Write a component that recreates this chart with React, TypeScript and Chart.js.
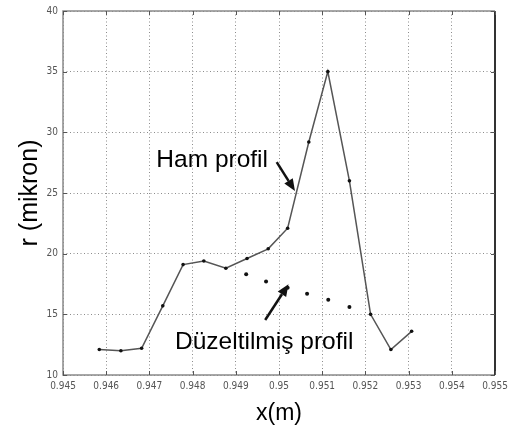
import React, { useEffect, useRef } from "react";
import { Chart, registerables } from "chart.js";

Chart.register(...registerables);

const xTicks = [0.945, 0.946, 0.947, 0.948, 0.949, 0.95, 0.951, 0.952, 0.953, 0.954, 0.955];
const xTickLabels = ["0.945", "0.946", "0.947", "0.948", "0.949", "0.95", "0.951", "0.952", "0.953", "0.954", "0.955"];
const yTicks = [10, 15, 20, 25, 30, 35, 40];
const yTickLabels = ["10", "15", "20", "25", "30", "35", "40"];

const hamX = [0.94584, 0.94634, 0.94682, 0.94731, 0.94778, 0.94826, 0.94877, 0.94926, 0.94975, 0.9502, 0.95069, 0.95113, 0.95163, 0.95212, 0.95259, 0.95307];
const hamY = [12.1, 12.0, 12.2, 15.7, 19.1, 19.4, 18.8, 19.6, 20.4, 22.1, 29.2, 35.0, 26.0, 15.0, 12.1, 13.6];

const duzX = [0.94924, 0.9497, 0.9502, 0.95065, 0.95114, 0.95163];
const duzY = [18.3, 17.7, 17.2, 16.7, 16.2, 15.6];

const hamLabel = "Ham profil";
const duzLabel = "Düzeltilmiş profil";
const xTitle = "x(m)";
const yTitle = "r (mikron)";

// annotation anchors in data coordinates
const hamText = { x: 0.949745, y: 27.13 };
const hamArrow = { x0: 0.949947, y0: 27.54, x1: 0.95037, y1: 25.17 };
const duzText = { x: 0.947593, y: 12.12 };
const duzArrow = { x0: 0.94968, y0: 14.53, x1: 0.95022, y1: 17.48 };

const annotationPlugin = {
  id: "annotations",
  afterDatasetsDraw(chart: any) {
    const ctx = chart.ctx;
    const xs = chart.scales.x;
    const ys = chart.scales.y;
    const px = (v: number) => xs.getPixelForValue(v);
    const py = (v: number) => ys.getPixelForValue(v);
    ctx.save();
    ctx.fillStyle = "#000";
    ctx.font = '24.5px "Liberation Sans", Arial, sans-serif';
    ctx.textBaseline = "alphabetic";
    ctx.textAlign = "right";
    ctx.fillText(hamLabel, px(hamText.x), py(hamText.y));
    ctx.textAlign = "left";
    ctx.fillText(duzLabel, px(duzText.x), py(duzText.y));

    const arrow = (a: any) => {
      const x0 = px(a.x0), y0 = py(a.y0), x1 = px(a.x1), y1 = py(a.y1);
      const ang = Math.atan2(y1 - y0, x1 - x0);
      const hl = 12, hw = 5;
      const bx = x1 - hl * Math.cos(ang), by = y1 - hl * Math.sin(ang);
      ctx.strokeStyle = "#111";
      ctx.lineWidth = 2.5;
      ctx.beginPath();
      ctx.moveTo(x0, y0);
      ctx.lineTo(bx, by);
      ctx.stroke();
      ctx.fillStyle = "#111";
      ctx.beginPath();
      ctx.moveTo(x1, y1);
      ctx.lineTo(bx + hw * Math.sin(ang), by - hw * Math.cos(ang));
      ctx.lineTo(bx - hw * Math.sin(ang), by + hw * Math.cos(ang));
      ctx.closePath();
      ctx.fill();
    };
    arrow(hamArrow);
    arrow(duzArrow);
    ctx.restore();
  },
  afterDraw(chart: any) {
    const ctx = chart.ctx;
    const { left, right, top, bottom } = chart.chartArea;
    const xs = chart.scales.x;
    const ys = chart.scales.y;
    ctx.save();
    ctx.strokeStyle = "#8a8a8a";
    ctx.lineWidth = 1.5;
    ctx.beginPath();
    ctx.moveTo(right, top);
    ctx.lineTo(left, top);
    ctx.lineTo(left, bottom);
    ctx.lineTo(right, bottom);
    ctx.stroke();
    ctx.strokeStyle = "#333";
    ctx.lineWidth = 2;
    ctx.beginPath();
    ctx.moveTo(right, top);
    ctx.lineTo(right, bottom);
    ctx.stroke();
    ctx.strokeStyle = "#555";
    ctx.lineWidth = 1;
    ctx.beginPath();
    xTicks.forEach((v) => {
      const x = Math.round(xs.getPixelForValue(v)) + 0.5;
      ctx.moveTo(x, bottom);
      ctx.lineTo(x, bottom - 4);
      ctx.moveTo(x, top);
      ctx.lineTo(x, top + 4);
    });
    yTicks.forEach((v) => {
      const y = Math.round(ys.getPixelForValue(v)) + 0.5;
      ctx.moveTo(left, y);
      ctx.lineTo(left + 4, y);
      ctx.moveTo(right, y);
      ctx.lineTo(right - 4, y);
    });
    ctx.stroke();
    ctx.restore();
  },
};

export default function App() {
  const ref = useRef<HTMLCanvasElement>(null);
  useEffect(() => {
    if (!ref.current) return;
    const chart = new Chart(ref.current, {
      type: "scatter",
      data: {
        datasets: [
          {
            label: hamLabel,
            data: hamX.map((x, i) => ({ x, y: hamY[i] })),
            showLine: true,
            borderColor: "#555",
            borderWidth: 1.5,
            pointRadius: 1.8,
            pointBackgroundColor: "#111",
            pointBorderWidth: 0,
          },
          {
            label: duzLabel,
            data: duzX.map((x, i) => ({ x, y: duzY[i] })),
            showLine: false,
            pointRadius: 2,
            pointBackgroundColor: "#111",
            pointBorderWidth: 0,
          },
        ],
      },
      options: {
        responsive: false,
        animation: false,
        layout: { padding: { top: 7, right: 24, left: 0, bottom: 0 } },
        plugins: { legend: { display: false }, tooltip: { enabled: false } },
        scales: {
          x: {
            type: "linear",
            min: 0.945,
            max: 0.955,
            afterBuildTicks: (s: any) => {
              s.ticks = xTicks.map((v) => ({ value: v }));
            },
            afterFit: (s: any) => {
              s.height = 55;
            },
            ticks: {
              autoSkip: false,
              maxRotation: 0,
              padding: 5,
              color: "#555",
              font: { family: '"DejaVu Sans Condensed", "DejaVu Sans", sans-serif', size: 10 },
              callback: (_v: any, i: number) => xTickLabels[i],
            },
            grid: { color: "#8c8c8c", drawTicks: false, lineWidth: 1 },
            border: { display: false, dash: [1, 2.5] },
            title: {
              display: true,
              text: xTitle,
              color: "#000",
              font: { family: '"Liberation Sans", Arial, sans-serif', size: 23 },
              padding: { top: 0, bottom: 3 },
            },
          },
          y: {
            type: "linear",
            min: 10,
            max: 40,
            afterBuildTicks: (s: any) => {
              s.ticks = yTicks.map((v) => ({ value: v }));
            },
            afterFit: (s: any) => {
              s.width = 63;
            },
            ticks: {
              autoSkip: false,
              padding: 5,
              color: "#555",
              font: { family: '"DejaVu Sans Condensed", "DejaVu Sans", sans-serif', size: 10 },
              callback: (_v: any, i: number) => yTickLabels[i],
            },
            grid: { color: "#8c8c8c", drawTicks: false, lineWidth: 1 },
            border: { display: false, dash: [1, 2.5] },
            title: {
              display: true,
              text: yTitle,
              color: "#000",
              font: { family: '"Liberation Sans", Arial, sans-serif', size: 25 },
              padding: { top: 15, bottom: 0 },
            },
          },
        },
      },
      plugins: [annotationPlugin],
    });
    return () => chart.destroy();
  }, []);
  return (
    <div style={{ position: "absolute", left: 0, top: 0, width: 519, height: 430, background: "#fff" }}>
      <canvas ref={ref} width={519} height={430} style={{ width: 519, height: 430 }} />
    </div>
  );
}
